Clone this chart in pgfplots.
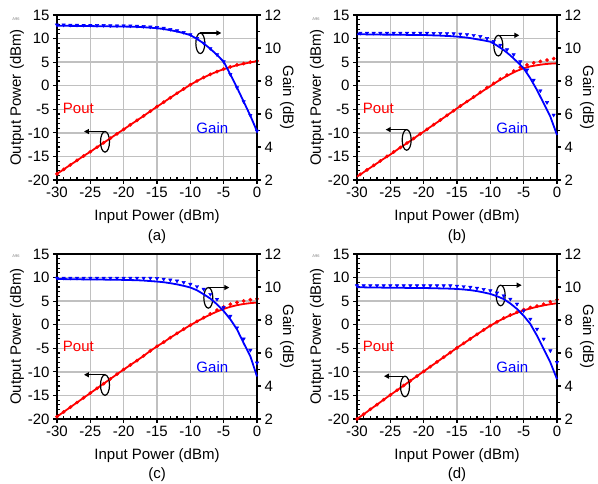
\documentclass[border=0pt]{standalone}
\usepackage{fontspec}
\setmainfont{Liberation Sans}
\usepackage{pgfplots}
\pgfplotsset{compat=1.18}
\usepackage{pgfplotstable}
\usetikzlibrary{arrows.meta}

\definecolor{gridgray}{RGB}{192,192,192}
\newcommand\fs{\fontsize{15bp}{18bp}\selectfont}

% simulated curves: x, Pout (dBm), Gain (dB)
\pgfplotstableread{
x p g
-30 -18.7 11.35
-29 -17.75 11.35
-28 -16.8 11.34
-27 -15.85 11.34
-26 -14.9 11.33
-25 -14.0 11.33
-24 -13.05 11.32
-23 -12.1 11.32
-22 -11.15 11.31
-21 -10.2 11.3
-20 -9.26 11.3
-19 -8.3 11.29
-18 -7.35 11.28
-17 -6.4 11.26
-16 -5.42 11.23
-15 -4.45 11.2
-14 -3.5 11.15
-13 -2.55 11.08
-12 -1.6 11.0
-11 -0.7 10.9
-10 0.2 10.78
-9 1.0 10.55
-8 1.75 10.28
-7 2.4 9.95
-6 3.0 9.58
-5 3.5 9.17
-4 3.95 8.4
-3 4.35 7.6
-2 4.65 6.75
-1 4.95 5.9
0 5.2 4.95
}\la
\pgfplotstableread{
x p g
-30 -18.7 11.4
-29 -17.75 11.4
-28 -16.8 11.39
-27 -15.85 11.39
-26 -14.9 11.38
-25 -14.0 11.38
-24 -13.05 11.37
-23 -12.1 11.37
-22 -11.15 11.36
-21 -10.2 11.35
-20 -9.26 11.35
-19 -8.3 11.34
-18 -7.35 11.33
-17 -6.4 11.31
-16 -5.42 11.28
-15 -4.45 11.25
-14 -3.5 11.2
-13 -2.55 11.13
-12 -1.6 11.05
-11 -0.7 10.95
-10 0.2 10.82
-9 1.0 10.58
-8 1.75 10.3
-7 2.4 9.97
-6 3.0 9.6
-5 3.55 9.17
-4 4.0 8.4
-3 4.4 7.6
-2 4.7 6.75
-1 5.0 5.92
0 5.25 4.97
}\da

\pgfplotstableread{
x p g
-30 -19.3 10.83
-29 -18.35 10.83
-28 -17.4 10.82
-27 -16.45 10.82
-26 -15.5 10.81
-25 -14.6 10.81
-24 -13.6 10.8
-23 -12.65 10.8
-22 -11.7 10.79
-21 -10.7 10.79
-20 -9.75 10.79
-19 -8.75 10.77
-18 -7.8 10.76
-17 -6.8 10.74
-16 -5.8 10.72
-15 -4.8 10.69
-14 -3.85 10.65
-13 -2.9 10.6
-12 -1.95 10.53
-11 -1.0 10.46
-10 -0.1 10.38
-9 0.85 10.15
-8 1.7 9.88
-7 2.45 9.55
-6 3.15 9.17
-5 3.7 8.77
-4 4.1 8.16
-3 4.35 7.45
-2 4.55 6.65
-1 4.68 5.84
0 4.75 4.73
}\lb
\pgfplotstableread{
x p g
-29.5 -18.8 10.9
-28.5 -17.85 10.9
-27.5 -16.9 10.9
-26.5 -15.95 10.9
-25.5 -15.0 10.9
-24.5 -14.05 10.9
-23.5 -13.1 10.9
-22.5 -12.15 10.9
-21.5 -11.2 10.9
-20.5 -10.2 10.9
-19.5 -9.25 10.9
-18.5 -8.25 10.89
-17.5 -7.3 10.89
-16.5 -6.3 10.88
-15.5 -5.3 10.87
-14.5 -4.3 10.85
-13.5 -3.35 10.82
-12.5 -2.4 10.77
-11.5 -1.4 10.7
-10.5 -0.4 10.58
-9.5 0.5 10.4
-8.5 1.4 10.18
-7.5 2.25 9.9
-6.5 3.1 9.6
-5.5 3.9 9.17
-4.5 4.4 8.67
-3.5 4.85 8.06
-2.5 5.15 7.41
-1.5 5.45 6.7
-0.5 5.75 5.94
}\db

\pgfplotstableread{
x p g
-30 -19.5 10.48
-29 -18.5 10.48
-28 -17.5 10.47
-27 -16.5 10.47
-26 -15.5 10.46
-25 -14.5 10.46
-24 -13.5 10.45
-23 -12.5 10.45
-22 -11.5 10.44
-21 -10.5 10.44
-20 -9.5 10.43
-19 -8.55 10.42
-18 -7.6 10.41
-17 -6.6 10.39
-16 -5.55 10.36
-15 -4.6 10.33
-14 -3.7 10.29
-13 -2.75 10.23
-12 -1.85 10.16
-11 -0.95 10.07
-10 -0.1 9.97
-9 0.7 9.8
-8 1.45 9.56
-7 2.15 9.3
-6 2.8 8.95
-5 3.35 8.54
-4 3.8 8.04
-3 4.15 7.43
-2 4.4 6.6
-1 4.58 5.8
0 4.7 4.58
}\lc
\pgfplotstableread{
x p g
-30 -19.5 10.54
-29 -18.5 10.54
-28 -17.5 10.54
-27 -16.5 10.54
-26 -15.5 10.54
-25 -14.5 10.54
-24 -13.5 10.54
-23 -12.5 10.54
-22 -11.5 10.54
-21 -10.5 10.54
-20 -9.5 10.54
-19 -8.55 10.54
-18 -7.6 10.54
-17 -6.6 10.54
-16 -5.55 10.54
-15 -4.6 10.52
-14 -3.7 10.48
-13 -2.75 10.43
-12 -1.85 10.37
-11 -0.95 10.28
-10 -0.1 10.17
-9 0.7 10.03
-8 1.5 9.87
-7 2.3 9.56
-6 3.1 9.26
-5 3.75 8.76
-4 4.35 8.24
-3 4.75 7.53
-2 5.05 6.86
-1 5.3 6.17
0 5.5 5.4
}\dc

\pgfplotstableread{
x p g
-30 -20.0 9.98
-29 -19.0 9.98
-28 -17.95 9.97
-27 -16.95 9.97
-26 -15.9 9.96
-25 -14.9 9.96
-24 -13.9 9.95
-23 -12.9 9.95
-22 -11.9 9.94
-21 -10.9 9.94
-20 -9.9 9.94
-19 -8.9 9.93
-18 -7.9 9.92
-17 -6.9 9.91
-16 -5.9 9.9
-15 -4.9 9.88
-14 -3.95 9.85
-13 -3.0 9.81
-12 -2.05 9.75
-11 -1.1 9.67
-10 -0.2 9.58
-9 0.6 9.44
-8 1.35 9.27
-7 2.0 9.0
-6 2.55 8.67
-5 3.05 8.26
-4 3.45 7.76
-3 3.8 7.05
-2 4.1 6.24
-1 4.35 5.43
0 4.55 4.42
}\ld
\pgfplotstableread{
x p g
-30 -20.0 10.08
-29 -19.0 10.08
-28 -17.95 10.08
-27 -16.95 10.08
-26 -15.9 10.08
-25 -14.9 10.08
-24 -13.9 10.08
-23 -12.9 10.08
-22 -11.9 10.08
-21 -10.9 10.08
-20 -9.9 10.08
-19 -8.9 10.08
-18 -7.9 10.08
-17 -6.9 10.08
-16 -5.9 10.08
-15 -4.9 10.06
-14 -3.95 10.03
-13 -3.0 9.99
-12 -2.05 9.93
-11 -1.1 9.86
-10 -0.2 9.78
-9 0.6 9.64
-8 1.4 9.47
-7 2.05 9.27
-6 2.65 8.97
-5 3.2 8.56
-4 3.65 8.06
-3 3.95 7.45
-2 4.35 6.85
-1 4.85 6.14
0 5.3 5.43
}\dd

\tikzset{
  ell/.style={black, line width=1.2bp},
  arr/.style={black, line width=1.2bp, -{Triangle[length=5bp,width=5bp]}},
}

\pgfplotsset{
  pa/.style={
    width=200bp, height=165bp, scale only axis, clip=false,
    xmin=-30, xmax=0, ymin=-20, ymax=15,
    xtick={-30,-25,...,0}, ytick={-20,-15,...,15},
    minor x tick num=4, minor y tick num=4,
    xtick pos=bottom, ytick pos=left,
    tick align=outside, major tick length=4bp, minor tick length=-3bp,
    tick style={black, line width=1.2bp},
    grid=major, major grid style={gridgray, line width=1.5bp},
    axis line style={line width=1.5bp},
    /pgf/number format/assume math mode=true,
    ticklabel style={font=\fs},
    xlabel={Input Power (dBm)},
    ylabel={Output Power (dBm)},
    every axis x label/.style={at={(axis description cs:0.5,-0.224)}, anchor=center, font=\fs},
    every axis y label/.style={at={(axis description cs:-0.2,0.5)}, rotate=90, anchor=center, font=\fs},
  },
  pg/.style={
    width=200bp, height=165bp, scale only axis, clip=false,
    xmin=-30, xmax=0, ymin=2, ymax=12,
    axis x line=none, axis y line*=right,
    ytick={2,4,...,12}, minor y tick num=1,
    tick align=outside, major tick length=4bp, minor tick length=3bp,
    tick style={black, line width=1.2bp},
    axis line style={line width=1.5bp, -},
    /pgf/number format/assume math mode=true,
    ticklabel style={font=\fs},
    ylabel={Gain (dB)},
    every axis y label/.style={at={(axis description cs:1.15,0.5)}, rotate=-90, anchor=center, font=\fs},
  },
  pline/.style={red, line width=1.8bp},
  pdot/.style={red, only marks, mark=*, mark size=1.7bp},
  gline/.style={blue, line width=1.8bp},
  gdot/.style={blue, only marks, mark=triangle*, mark size=2bp, mark options={rotate=180}},
}

\begin{document}
\begin{tikzpicture}
\path[use as bounding box] (0,0) rectangle (598bp,484bp);

% (a)
\begin{axis}[pa, at={(57bp,304bp)}, anchor=south west]
\addplot[pline] table[x=x,y=p] {\la};
\addplot[pdot] table[x=x,y=p] {\da};
\draw[ell] (axis cs:-8.5,9.0) ellipse [x radius=4.5bp, y radius=10.3bp];
\draw[arr] (axis cs:-8.5,9.0) ++(0bp,10.3bp) -- ++(21bp,0bp);
\draw[ell] (axis cs:-22.8,-11.9) ellipse [x radius=4.5bp, y radius=10.3bp];
\draw[arr] (axis cs:-22.8,-11.9) ++(0bp,10.3bp) -- ++(-21bp,0bp);
\node[red, font=\fs] at (axis cs:-26.8,-4.8) {Pout};
\node[blue, font=\fs] at (axis cs:-6.7,-9.0) {Gain};
\node[font=\fs] at (axis description cs:0.5,-0.345) {(a)};
\end{axis}
\begin{axis}[pg, at={(57bp,304bp)}, anchor=south west]
\addplot[gline] table[x=x,y=g] {\la};
\addplot[gdot] table[x=x,y=g] {\da};
\end{axis}

% (b)
\begin{axis}[pa, at={(357bp,304bp)}, anchor=south west]
\addplot[pline] table[x=x,y=p] {\lb};
\addplot[pdot] table[x=x,y=p] {\db};
\draw[ell] (axis cs:-8.8,8.5) ellipse [x radius=4.5bp, y radius=10.3bp];
\draw[arr] (axis cs:-8.8,8.5) ++(0bp,10.3bp) -- ++(21bp,0bp);
\draw[ell] (axis cs:-22.55,-11.5) ellipse [x radius=4.5bp, y radius=10.3bp];
\draw[arr] (axis cs:-22.55,-11.5) ++(0bp,10.3bp) -- ++(-21bp,0bp);
\node[red, font=\fs] at (axis cs:-26.8,-4.8) {Pout};
\node[blue, font=\fs] at (axis cs:-6.7,-9.0) {Gain};
\node[font=\fs] at (axis description cs:0.5,-0.345) {(b)};
\end{axis}
\begin{axis}[pg, at={(357bp,304bp)}, anchor=south west]
\addplot[gline] table[x=x,y=g] {\lb};
\addplot[gdot] table[x=x,y=g] {\db};
\end{axis}

% (c)
\begin{axis}[pa, at={(57bp,65bp)}, anchor=south west]
\addplot[pline] table[x=x,y=p] {\lc};
\addplot[pdot] table[x=x,y=p] {\dc};
\draw[ell] (axis cs:-7.3,5.7) ellipse [x radius=4.5bp, y radius=10.3bp];
\draw[arr] (axis cs:-7.3,5.7) ++(0bp,10.3bp) -- ++(21bp,0bp);
\draw[ell] (axis cs:-22.8,-12.8) ellipse [x radius=4.5bp, y radius=10.3bp];
\draw[arr] (axis cs:-22.8,-12.8) ++(0bp,10.3bp) -- ++(-21bp,0bp);
\node[red, font=\fs] at (axis cs:-26.8,-4.6) {Pout};
\node[blue, font=\fs] at (axis cs:-6.7,-8.9) {Gain};
\node[font=\fs] at (axis description cs:0.5,-0.34) {(c)};
\end{axis}
\begin{axis}[pg, at={(57bp,65bp)}, anchor=south west]
\addplot[gline] table[x=x,y=g] {\lc};
\addplot[gdot] table[x=x,y=g] {\dc};
\end{axis}

% (d)
\begin{axis}[pa, at={(357bp,65bp)}, anchor=south west]
\addplot[pline] table[x=x,y=p] {\ld};
\addplot[pdot] table[x=x,y=p] {\dd};
\draw[ell] (axis cs:-8.45,6.2) ellipse [x radius=4.5bp, y radius=10.3bp];
\draw[arr] (axis cs:-8.45,6.2) ++(0bp,10.3bp) -- ++(21bp,0bp);
\draw[ell] (axis cs:-22.8,-13.1) ellipse [x radius=4.5bp, y radius=10.3bp];
\draw[arr] (axis cs:-22.8,-13.1) ++(0bp,10.3bp) -- ++(-21bp,0bp);
\node[red, font=\fs] at (axis cs:-26.8,-4.6) {Pout};
\node[blue, font=\fs] at (axis cs:-6.7,-8.9) {Gain};
\node[font=\fs] at (axis description cs:0.5,-0.34) {(d)};
\end{axis}
\begin{axis}[pg, at={(357bp,65bp)}, anchor=south west]
\addplot[gline] table[x=x,y=g] {\ld};
\addplot[gdot] table[x=x,y=g] {\dd};
\end{axis}

\node[gray, font=\fontsize{4bp}{4bp}\selectfont] at (16bp,465bp) {A96};
\node[gray, font=\fontsize{4bp}{4bp}\selectfont] at (316bp,465bp) {A96};
\node[gray, font=\fontsize{4bp}{4bp}\selectfont] at (16bp,228bp) {A96};
\node[gray, font=\fontsize{4bp}{4bp}\selectfont] at (316bp,228bp) {A96};
\end{tikzpicture}
\end{document}
